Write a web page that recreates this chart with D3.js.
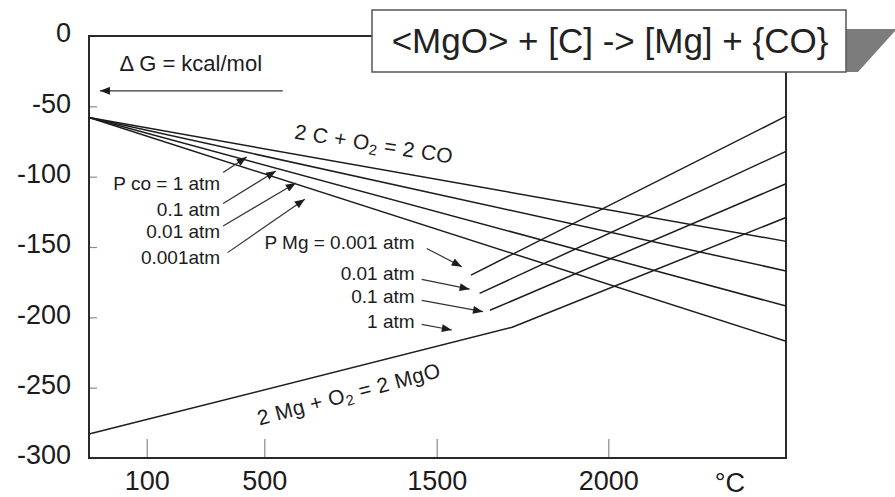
<!DOCTYPE html>
<html>
<head>
<meta charset="utf-8">
<script src="https://cdn.jsdelivr.net/npm/d3@7"></script>
<style>
  html, body { margin: 0; padding: 0; background: #fff; }
  svg { display: block; font-family: "Liberation Sans", Arial, Helvetica, sans-serif; }
</style>
</head>
<body>
<svg id="chart" width="895" height="497"></svg>
<script>
// Temperature axis (°C): labelled ticks and the breakpoints of the piecewise axis
const tempTicks = [100, 500, 1500, 2000];
const tempBreaks = [0, 100, 500, 1500, 2000, 2500];
// Free-energy axis (kcal/mol)
const dgTicks = [0, -50, -100, -150, -200, -250, -300];

// 2C + O2 = 2CO for several CO partial pressures, [T °C, ΔG kcal/mol]
const coLabels = ["P co = 1 atm", "0.1 atm", "0.01 atm", "0.001atm"];
const coP1    = [[0, -58], [2500, -146]];
const coP01   = [[0, -58], [2500, -167]];
const coP001  = [[0, -58], [2500, -192]];
const coP0001 = [[0, -58], [2500, -217]];
const coLabelY = [-104.5, -123.3, -138.6, -157.6];
const coLabelT = 350;
const coLeaders = [
  [[360, -97], [440, -86]],
  [[360, -119], [567, -96]],
  [[360, -135], [683, -104.5]],
  [[375, -154], [735, -116]]
];

// 2Mg + O2 = 2MgO for several Mg partial pressures
const mgLabels = ["P Mg = 0.001 atm", "0.01 atm", "0.1 atm", "1 atm"];
const mgP0001 = [[1600, -170], [2500, -57]];
const mgP001  = [[1625, -183], [2500, -82]];
const mgP01   = [[1655, -195], [2500, -105]];
const mgP1    = [[0, -283], [1720, -207], [2500, -129]];
const mgLabelY = [-146.4, -168.8, -185.2, -202.6];
const mgLabelT = 1372;
const mgLeaders = [
  [[1442, -151], [1573, -164]],
  [[1413, -173], [1596, -180]],
  [[1413, -188], [1635, -196]],
  [[1413, -205], [1544, -209]]
];

const titleText = "<MgO> + [C] -> [Mg] + {CO}";
const unitText = "Δ G = kcal/mol";
const unitArrow = [[607, -39], [19, -39]];

// ---------------------------------------------------------------
const svg = d3.select("#chart");
const M = { left: 89, top: 36, right: 786, bottom: 458 };
const W = M.right - M.left, H = M.bottom - M.top;
const ink = "#1c1c1c";

// The temperature axis of this diagram is not evenly spaced, so it is piecewise linear.
const x = d3.scaleLinear()
  .domain(tempBreaks)
  .range([0, 57.7, 175.3, 347.7, 519.3, W].map(v => M.left + v));
const y = d3.scaleLinear().domain([-300, 0]).range([M.bottom, M.top]);

const defs = svg.append("defs");
defs.append("marker")
  .attr("id", "tip")
  .attr("viewBox", "0 0 10 8")
  .attr("refX", 10).attr("refY", 4)
  .attr("markerWidth", 11).attr("markerHeight", 8)
  .attr("markerUnits", "userSpaceOnUse")
  .attr("orient", "auto")
  .append("path").attr("d", "M0,0 L10,4 L0,8 Z").attr("fill", ink);

// Axes: ticks point into the plot
const yAxis = svg.append("g")
  .attr("transform", `translate(${M.left},0)`)
  .call(d3.axisLeft(y).tickValues(dgTicks).tickSizeInner(-8).tickSizeOuter(0).tickPadding(18)
    .tickFormat(d => String(d)));
yAxis.select(".domain").remove();
yAxis.selectAll(".tick line").attr("stroke", "#8a8a8a").attr("stroke-width", 1.2);
yAxis.selectAll(".tick text")
  .attr("font-size", 27).attr("fill", ink).attr("dy", "0.22em")
  .attr("font-family", "Liberation Sans, Arial, sans-serif");

const xAxis = svg.append("g")
  .attr("transform", `translate(0,${M.bottom})`)
  .call(d3.axisBottom(x).tickValues(tempTicks).tickSizeInner(-19).tickSizeOuter(0).tickPadding(13)
    .tickFormat(d => String(d)));
xAxis.select(".domain").remove();
xAxis.selectAll(".tick line").attr("stroke", "#8a8a8a").attr("stroke-width", 1.2);
xAxis.selectAll(".tick text")
  .attr("font-size", 27).attr("fill", ink)
  .attr("font-family", "Liberation Sans, Arial, sans-serif");

svg.append("text")
  .attr("x", x(2342)).attr("y", 492)
  .attr("text-anchor", "middle").attr("font-size", 27).attr("fill", ink)
  .text("°C");

// Plot frame
svg.append("rect")
  .attr("x", M.left).attr("y", M.top).attr("width", W).attr("height", H)
  .attr("fill", "none").attr("stroke", "#2a2a2a").attr("stroke-width", 2);

// Reaction lines
const line = d3.line().x(d => x(d[0])).y(d => y(d[1]));
const series = [coP1, coP01, coP001, coP0001, mgP0001, mgP001, mgP01, mgP1];
svg.append("g").selectAll("path").data(series).join("path")
  .attr("d", line)
  .attr("fill", "none").attr("stroke", ink).attr("stroke-width", 1.5);

// Pressure labels and their leaders
const labelGroup = svg.append("g").attr("fill", ink).attr("font-size", 19);
labelGroup.selectAll("text.co").data(coLabels).join("text")
  .attr("class", "co")
  .attr("x", x(coLabelT)).attr("y", (d, i) => y(coLabelY[i]))
  .attr("dy", "0.35em").attr("text-anchor", "end")
  .text(d => d);
labelGroup.selectAll("text.mg").data(mgLabels).join("text")
  .attr("class", "mg")
  .attr("x", x(mgLabelT)).attr("y", (d, i) => y(mgLabelY[i]))
  .attr("dy", "0.35em").attr("text-anchor", "end")
  .text(d => d);

svg.append("g").selectAll("path").data(coLeaders.concat(mgLeaders)).join("path")
  .attr("d", line)
  .attr("fill", "none").attr("stroke", "#333").attr("stroke-width", 1.2)
  .attr("marker-end", "url(#tip)");

// Unit note with arrow
svg.append("text")
  .attr("x", x(53)).attr("y", y(-19.2)).attr("dy", "0.35em")
  .attr("font-size", 22).attr("fill", ink).text(unitText);
svg.append("path")
  .attr("d", line(unitArrow))
  .attr("stroke", "#333").attr("stroke-width", 1.4).attr("fill", "none")
  .attr("marker-end", "url(#tip)");

// Reaction names written along the lines
function reaction(g, parts) {
  parts.forEach(p => {
    const t = g.append("tspan").text(p.t);
    if (p.sub) t.attr("font-size", "0.7em").attr("baseline-shift", "-25%");
  });
}
const coName = svg.append("text")
  .attr("transform", `translate(${x(1129)},${y(-81.8)}) rotate(9)`)
  .attr("text-anchor", "middle").attr("font-size", 21).attr("letter-spacing", 0.4).attr("fill", ink);
reaction(coName, [{ t: "2 C + O" }, { t: "2", sub: true }, { t: " = 2 CO" }]);

const mgName = svg.append("text")
  .attr("transform", `translate(${x(1001)},${y(-259.5)}) rotate(-15)`)
  .attr("text-anchor", "middle").attr("font-size", 21).attr("letter-spacing", 0.4).attr("fill", ink);
reaction(mgName, [{ t: "2 Mg + O" }, { t: "2", sub: true }, { t: " = 2 MgO" }]);

// Title box with its shadow flap
svg.append("path")
  .attr("d", "M846,29 L895,29 L895,31 L858,72 L846,72 Z")
  .attr("fill", "#7c7c7c");
svg.append("rect")
  .attr("x", 372).attr("y", 10).attr("width", 474).attr("height", 62)
  .attr("fill", "#fff").attr("stroke", "#555").attr("stroke-width", 1.5);
svg.append("text")
  .attr("x", 610).attr("y", 53)
  .attr("text-anchor", "middle").attr("font-size", 35).attr("fill", "#222")
  .text(titleText);
</script>
</body>
</html>
